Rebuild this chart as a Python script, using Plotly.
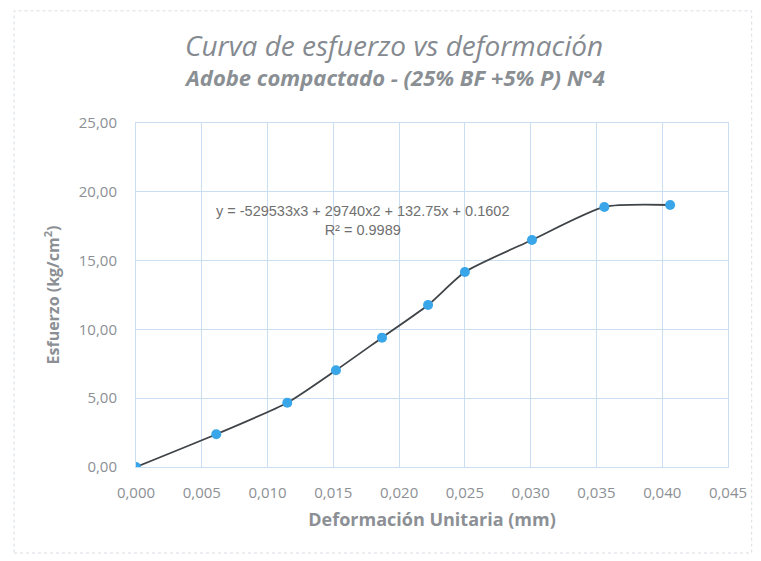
import plotly.graph_objects as go

deformacion = [0.0, 0.0061, 0.0115, 0.0152, 0.0187, 0.0222, 0.0250, 0.0301, 0.0356, 0.0406]
esfuerzo = [0.0, 2.38, 4.67, 7.03, 9.40, 11.77, 14.17, 16.5, 18.9, 19.04]

title_text = "Curva de esfuerzo vs deformación"
subtitle_text = "Adobe compactado - (25% BF +5% P) N°4"
x_title = "Deformación Unitaria (mm)"
y_title = "Esfuerzo (kg/cm<sup>2</sup>)"
eq_text = "y = -529533x3 + 29740x2 + 132.75x + 0.1602"
r2_text = "R² = 0.9989"

grid = "#c9def0"
txt = "#8c9095"

fig = go.Figure()
fig.add_trace(go.Scatter(
    x=deformacion, y=esfuerzo, mode="lines+markers",
    line=dict(color="#3f4448", width=1.8, shape="spline", smoothing=0.6),
    marker=dict(color="#3aa6ea", size=10),
    showlegend=False,
))

fig.update_layout(
    width=761, height=561,
    margin=dict(l=128, r=41, t=115, b=102),
    paper_bgcolor="white", plot_bgcolor="white",
    separators=",.",
    font=dict(family="Open Sans", color=txt),
    xaxis=dict(range=[0, 0.045], dtick=0.005, tickformat=".3f",
               showgrid=True, gridcolor=grid, gridwidth=1,
               showline=True, linecolor=grid, mirror=True, zeroline=False,
               ticks="", ticklabelstandoff=12, tickfont=dict(size=15, color=txt),
               title=dict(text="<b>" + x_title + "</b>", font=dict(size=18, color=txt), standoff=12)),
    yaxis=dict(range=[0, 25], dtick=5, tickformat=".2f",
               showgrid=True, gridcolor=grid, gridwidth=1,
               showline=True, linecolor=grid, mirror=True, zeroline=False,
               ticks="", ticklabelstandoff=15, tickfont=dict(size=15, color=txt),
               title=dict(text="<b>" + y_title + "</b>", font=dict(size=16, color=txt), standoff=15)),
)

fig.add_annotation(text="<i>" + title_text + "</i>", xref="paper", yref="paper",
                   x=0.436, y=1.228, xanchor="center", yanchor="middle", showarrow=False,
                   font=dict(family="Open Sans", size=28, color="#858a90"))
fig.add_annotation(text="<b><i>" + subtitle_text + "</i></b>", xref="paper", yref="paper",
                   x=0.436, y=1.133, xanchor="center", yanchor="middle", showarrow=False,
                   font=dict(family="Open Sans", size=22, color="#8a8f94"))
fig.add_annotation(text=eq_text + "<br>" + r2_text, xref="paper", yref="paper",
                   x=0.383, y=0.718, xanchor="center", yanchor="middle", showarrow=False,
                   align="center", font=dict(family="Liberation Sans", size=14.5, color="#707070"))

fig.add_shape(type="rect", xref="paper", yref="paper",
              x0=-0.206, x1=1.04, y0=-0.25, y1=1.326,
              line=dict(color="#d8dde2", width=1, dash="dot"))

fig.write_html("out.html")
